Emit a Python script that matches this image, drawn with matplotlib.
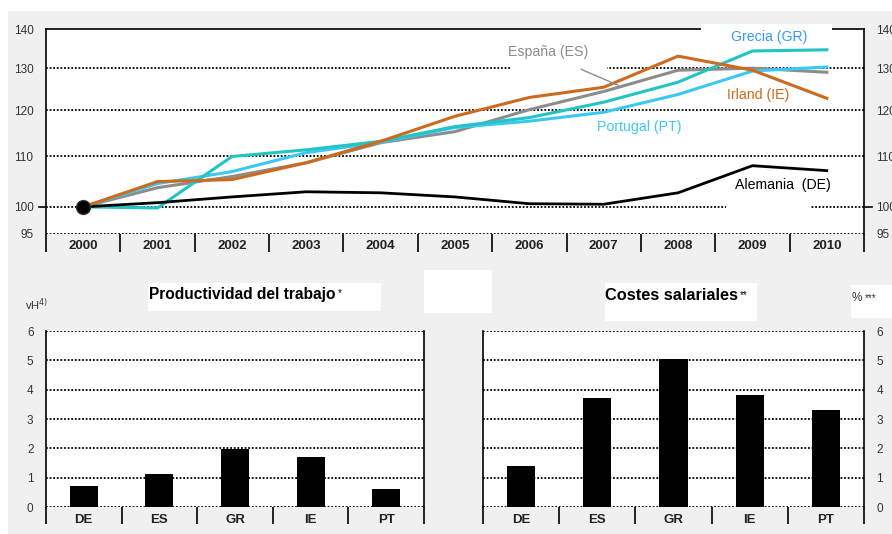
import matplotlib
matplotlib.use("Agg")
import matplotlib.pyplot as plt
from matplotlib.patches import Rectangle
from matplotlib.text import Annotation
import numpy as np

plt.rcParams['font.family'] = ['Liberation Sans', 'DejaVu Sans']

years = ['2000', '2001', '2002', '2003', '2004', '2005',
         '2006', '2007', '2008', '2009', '2010']
alemania = [100, 100.8, 101.9, 102.9, 102.7, 101.9, 100.6, 100.5, 102.7, 108.1, 107.1]
irland = [100, 104.9, 105.3, 108.7, 113.2, 118.7, 123.0, 125.4, 133.0, 129.5, 122.8]
espana = [100, 103.7, 105.9, 108.7, 112.9, 115.3, 120.2, 124.4, 129.5, 130.0, 129.0]
portugal = [100, 104.5, 106.9, 110.8, 113.0, 116.2, 117.6, 119.6, 123.7, 129.3, 130.3]
grecia = [100, 99.8, 110.0, 111.4, 113.2, 116.4, 118.4, 121.9, 126.6, 134.3, 134.6]

paises = ['DE', 'ES', 'GR', 'IE', 'PT']
productividad = [0.72, 1.12, 1.98, 1.71, 0.62]
costes = [1.39, 3.71, 5.03, 3.81, 3.30]

W, H = 892, 534
fig = plt.figure(figsize=(W / 100, H / 100), dpi=100)
fig.patch.set_facecolor('#f0f0f0')


def px_box(x0, y0, x1, y1, color='white', z=0.5):
    # rectangle given in pixel coords (top-left origin)
    r = Rectangle((x0 / W, 1 - y1 / H), (x1 - x0) / W, (y1 - y0) / H,
                  transform=fig.transFigure, facecolor=color, edgecolor='none',
                  zorder=z)
    fig.patches.append(r)
    return r


def px_axes(x0, y0, x1, y1):
    return fig.add_axes([x0 / W, 1 - y1 / H, (x1 - x0) / W, (y1 - y0) / H])


def star(txt, s, col='black'):
    # small superscript stars glued to the end of a text
    fig.add_artist(Annotation(s, xy=(1, 1), xycoords=txt, xytext=(1.5, -1),
                              textcoords='offset points', fontsize=7,
                              ha='left', va='top', color=col))


# white border strips
px_box(0, 0, W, 11)
px_box(0, 0, 8, H)

dot = (0, (1, 1))
tick_col = '#333333'

# ---------- top chart ----------
ax = px_axes(46, 29, 864, 234)
ax.set_yscale('log')
ax.set_ylim(95, 140)
ax.set_xlim(-0.5, len(years) - 0.5)
x = np.arange(len(years))

for v in [95, 100, 110, 120, 130]:
    ax.axhline(v, color='black', lw=1.3, ls=dot, zorder=1)

ax.plot(x, alemania, color='black', lw=2.0, zorder=4)
ax.plot(x, irland, color='#cc6a1e', lw=2.2, zorder=4)
ax.plot(x, espana, color='#8c8c8c', lw=2.2, zorder=3)
ax.plot(x, portugal, color='#3cc8f5', lw=2.2, zorder=3)
ax.plot(x, grecia, color='#22c4c4', lw=2.2, zorder=3)
ax.plot(x[0], alemania[0], 'o', color='black', ms=10, mec='#333333', zorder=5)

ax.set_yticks([95, 100, 110, 120, 130, 140])
ax.set_yticklabels(['95', '100', '110', '120', '130', '140'])
ax.yaxis.set_minor_locator(matplotlib.ticker.NullLocator())
ax.tick_params(axis='y', which='major', length=0, pad=9, labelsize=8.5,
               labelcolor=tick_col, labelright=True)
ax.set_xticks(x)
ax.set_xticklabels(years, fontweight='bold')
ax.set_xticks(np.arange(-0.5, len(years)), minor=True)
ax.tick_params(axis='x', which='major', length=0, pad=4, labelsize=9.5,
               labelcolor='#222222')
ax.tick_params(axis='x', which='minor', length=13, width=1.2, direction='out')
ax.spines['bottom'].set_visible(False)
for s in ['left', 'right', 'top']:
    ax.spines[s].set_linewidth(1.2)

# little solid ticks at 100
ax.plot([-0.008, 0], [100, 100], transform=ax.get_yaxis_transform(),
        color='black', lw=1.2, clip_on=False)
ax.plot([1, 1.01], [100, 100], transform=ax.get_yaxis_transform(),
        color='black', lw=1.2, clip_on=False)

# label boxes
for (a, b, c, d) in [(701, 24, 832, 45), (511, 40, 607, 71), (726, 176, 810, 211)]:
    r = Rectangle(((a - 46) / 818, (234 - d) / 205), (c - a) / 818, (d - b) / 205,
                  transform=ax.transAxes, facecolor='white', edgecolor='none',
                  zorder=2.6, clip_on=False)
    ax.add_patch(r)

lab = dict(fontsize=10.2, ha='center', va='center', zorder=6)
ax.text(9.23, 138.0, 'Grecia (GR)', color='#3399ff', **lab)
ax.text(6.25, 134.0, 'España (ES)', color='#8c8c8c', **lab)
ax.plot([6.70, 7.19], [129.7, 125.9], color='#8c8c8c', lw=1, zorder=6)
ax.text(9.07, 123.5, 'Irland (IE)', color='#cc6a1e', **lab)
ax.text(7.48, 116.4, 'Portugal (PT)', color='#3cc8f5', **lab)
ax.text(9.41, 104.3, 'Alemania  (DE)', color='black', **lab)


# ---------- bottom charts ----------
def bar_chart(axb, vals, right=False):
    xb = np.arange(len(paises))
    axb.set_xlim(-0.5, len(paises) - 0.5)
    axb.set_ylim(0, 6)
    for v in range(0, 7):
        axb.axhline(v, color='black', lw=1.3, ls=dot, zorder=1)
    axb.bar(xb, vals, width=0.37, color='black', zorder=3)
    axb.set_xticks(xb)
    axb.set_xticklabels(paises, fontweight='bold')
    axb.set_xticks(np.arange(-0.5, len(paises)), minor=True)
    axb.tick_params(axis='x', which='major', length=0, pad=5, labelsize=9.5,
                    labelcolor='#222222')
    axb.tick_params(axis='x', which='minor', length=12, width=1.2)
    axb.set_yticks(range(0, 7))
    axb.tick_params(axis='y', length=0, pad=9, labelsize=8.5,
                    labelcolor=tick_col, labelleft=not right, labelright=right)
    axb.spines['top'].set_visible(False)
    axb.spines['bottom'].set_visible(False)
    axb.spines['left'].set_linewidth(1.2)
    axb.spines['right'].set_linewidth(1.2)


ax1 = px_axes(46, 331, 424, 507)
bar_chart(ax1, productividad)
ax2 = px_axes(483, 331, 864, 507)
bar_chart(ax2, costes, right=True)

# title boxes
px_box(148, 283, 381, 311)
px_box(424, 270, 492, 313)
px_box(605, 283, 757, 321)
px_box(851, 285, 892, 318)

t1 = fig.text(149 / W, 1 - 294 / H, 'Productividad del trabajo', fontsize=11.2,
              fontweight='bold', ha='left', va='center')
star(t1, '*')
t2 = fig.text(605 / W, 1 - 296 / H, 'Costes salariales', fontsize=11.8,
              fontweight='bold', ha='left', va='center')
star(t2, '**')
t3 = fig.text(852 / W, 1 - 298 / H, '%', fontsize=8.5, ha='left', va='center',
              color=tick_col)
star(t3, '***', tick_col)
fig.text(25 / W, 1 - 305 / H, r'vH$^{4)}$', fontsize=8, ha='left',
         va='center', color=tick_col)

fig.savefig('out.png', dpi=100, facecolor=fig.get_facecolor())
